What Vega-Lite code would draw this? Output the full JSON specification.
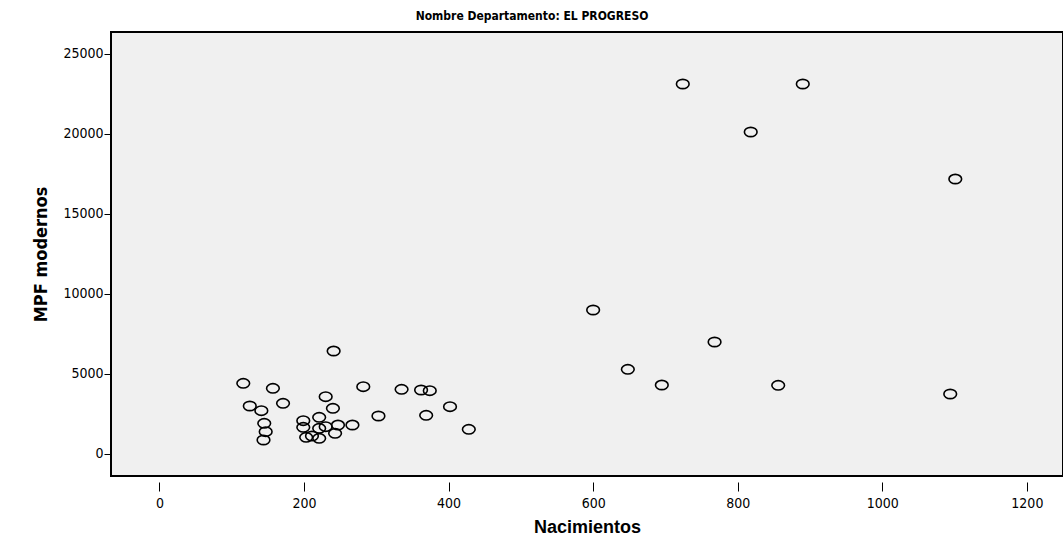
{
  "$schema": "https://vega.github.io/schema/vega-lite/v6.json",
  "width": 952,
  "height": 444,
  "autosize": {"type": "none"},
  "padding": {"left": 111, "top": 32, "right": 0, "bottom": 61},
  "background": "white",
  "title": {"text": "Nombre Departamento: EL PROGRESO", "fontSize": 12, "font": "DejaVu Sans Condensed", "fontWeight": "bold", "anchor": "middle", "dx": -55, "offset": 9, "color": "black"},
  "config": {
    "view": {"fill": "#F0F0F0", "stroke": "black", "strokeWidth": 2},
    "axis": {"grid": false, "labelFont": "DejaVu Sans Condensed", "labelFontSize": 14, "labelColor": "black", "titleFont": "DejaVu Sans Condensed", "titleColor": "black", "titleFontWeight": "bold", "titleFontSize": 18, "tickColor": "black", "domain": false, "format": "d"}
  },
  "data": {"values": [
    {"Nacimientos": 724, "MPF": 23094},
    {"Nacimientos": 890, "MPF": 23094},
    {"Nacimientos": 818, "MPF": 20094},
    {"Nacimientos": 1101, "MPF": 17156},
    {"Nacimientos": 600, "MPF": 8969},
    {"Nacimientos": 768, "MPF": 6969},
    {"Nacimientos": 648, "MPF": 5263},
    {"Nacimientos": 695, "MPF": 4281},
    {"Nacimientos": 856, "MPF": 4263},
    {"Nacimientos": 1094, "MPF": 3719},
    {"Nacimientos": 241, "MPF": 6406},
    {"Nacimientos": 116, "MPF": 4388},
    {"Nacimientos": 157, "MPF": 4075},
    {"Nacimientos": 282, "MPF": 4175},
    {"Nacimientos": 335, "MPF": 4013},
    {"Nacimientos": 362, "MPF": 3969},
    {"Nacimientos": 374, "MPF": 3925},
    {"Nacimientos": 125, "MPF": 2969},
    {"Nacimientos": 141, "MPF": 2675},
    {"Nacimientos": 171, "MPF": 3138},
    {"Nacimientos": 230, "MPF": 3550},
    {"Nacimientos": 240, "MPF": 2825},
    {"Nacimientos": 402, "MPF": 2925},
    {"Nacimientos": 369, "MPF": 2388},
    {"Nacimientos": 303, "MPF": 2344},
    {"Nacimientos": 145, "MPF": 1888},
    {"Nacimientos": 147, "MPF": 1363},
    {"Nacimientos": 144, "MPF": 844},
    {"Nacimientos": 199, "MPF": 2050},
    {"Nacimientos": 199, "MPF": 1638},
    {"Nacimientos": 203, "MPF": 1013},
    {"Nacimientos": 211, "MPF": 1094},
    {"Nacimientos": 221, "MPF": 2263},
    {"Nacimientos": 221, "MPF": 1575},
    {"Nacimientos": 221, "MPF": 950},
    {"Nacimientos": 230, "MPF": 1675},
    {"Nacimientos": 247, "MPF": 1781},
    {"Nacimientos": 243, "MPF": 1263},
    {"Nacimientos": 267, "MPF": 1781},
    {"Nacimientos": 428, "MPF": 1513}
  ]},
  "mark": {"type": "point", "shape": "M-1.3,0A1.3,0.95 0 1,0 1.3,0A1.3,0.95 0 1,0 -1.3,0Z", "size": 95, "filled": false, "stroke": "black", "strokeWidth": 1.6, "opacity": 1},
  "encoding": {
    "x": {"field": "Nacimientos", "type": "quantitative", "scale": {"domain": [-67, 1250], "nice": false, "zero": false},
      "axis": {"title": "Nacimientos", "values": [0, 200, 400, 600, 800, 1000, 1200], "offset": 6, "tickSize": 9, "labelPadding": 5, "titlePadding": 8, "titleFont": "Liberation Sans", "titleFontSize": 18}},
    "y": {"field": "MPF", "type": "quantitative", "scale": {"domain": [-1406, 26344], "nice": false, "zero": false},
      "axis": {"title": "MPF modernos", "values": [0, 5000, 10000, 15000, 20000, 25000], "tickSize": 7, "labelPadding": 1, "titlePadding": 12}}
  }
}
